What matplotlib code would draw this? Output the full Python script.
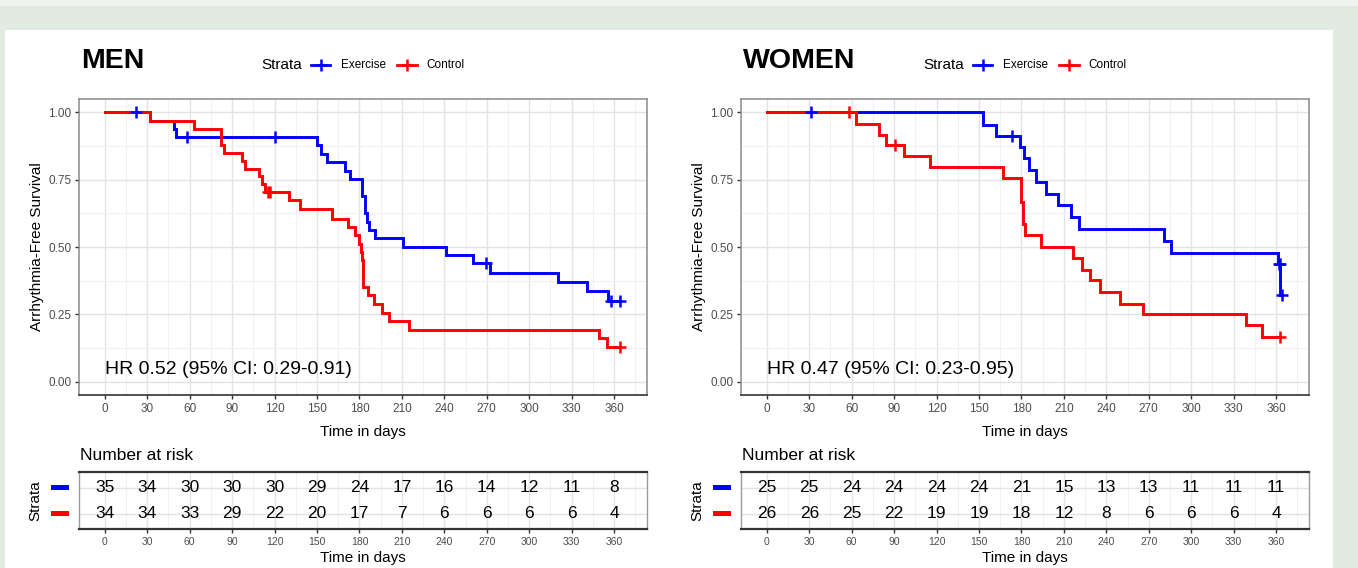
import numpy as np
import matplotlib.pyplot as plt
from matplotlib.lines import Line2D
from matplotlib.patches import Rectangle
import matplotlib.transforms as mtransforms

plt.rcParams['font.family'] = ['Liberation Sans', 'DejaVu Sans']

W, H = 1358, 568

# ---- data (days, survival) ----
men_ex_t = [0, 32, 49, 50.5, 150, 153, 157, 170, 173, 182, 184, 185.5, 187, 191, 210.7, 241, 260, 272.6, 320, 341, 356, 364]
men_ex_s = [1.0, 0.97, 0.94, 0.91, 0.88, 0.846, 0.815, 0.784, 0.753, 0.688, 0.625, 0.594, 0.565, 0.535, 0.50, 0.47, 0.44, 0.405, 0.37, 0.337, 0.30, 0.30]
men_ex_cens = [22, 58, 120, 269.5, 358, 364]

men_ct_t = [0, 32, 63, 82, 84, 97, 99, 109, 111, 113, 130, 138, 160.8, 171.6, 176.8, 179.6, 181, 182, 182.5, 185.7, 190.4, 195.6, 201, 215, 349, 355, 364]
men_ct_s = [1.0, 0.97, 0.94, 0.88, 0.85, 0.82, 0.79, 0.763, 0.733, 0.703, 0.675, 0.642, 0.605, 0.574, 0.543, 0.51, 0.48, 0.45, 0.352, 0.321, 0.287, 0.256, 0.225, 0.19, 0.16, 0.127, 0.127]
men_ct_cens = [115, 117, 364]

wom_ex_t = [0, 152.5, 162, 179, 182, 185.6, 190.5, 197.6, 206, 214.7, 220.8, 281, 285.4, 361, 363, 364]
wom_ex_s = [1.0, 0.955, 0.913, 0.871, 0.83, 0.785, 0.74, 0.696, 0.655, 0.611, 0.568, 0.522, 0.479, 0.435, 0.32, 0.32]
wom_ex_cens = [31, 173.5, 362, 362.5, 364]

wom_ct_t = [0, 62.7, 79, 84, 96.8, 115, 166.8, 180, 181, 182.3, 193.6, 216.5, 223, 228.7, 235.8, 249.5, 265.7, 338.7, 350, 362.5]
wom_ct_s = [1.0, 0.958, 0.915, 0.878, 0.838, 0.797, 0.755, 0.667, 0.587, 0.543, 0.5, 0.459, 0.416, 0.377, 0.333, 0.29, 0.25, 0.21, 0.165, 0.165]
wom_ct_cens = [58, 90.7, 362.5]

risk_times = [0, 30, 60, 90, 120, 150, 180, 210, 240, 270, 300, 330, 360]
men_risk_ex = [35, 34, 30, 30, 30, 29, 24, 17, 16, 14, 12, 11, 8]
men_risk_ct = [34, 34, 33, 29, 22, 20, 17, 7, 6, 6, 6, 6, 4]
wom_risk_ex = [25, 25, 24, 24, 24, 24, 21, 15, 13, 13, 11, 11, 11]
wom_risk_ct = [26, 26, 25, 22, 19, 19, 18, 12, 8, 6, 6, 6, 4]

panels = [
    dict(title="MEN", hr="HR 0.52 (95% CI: 0.29-0.91)", left=79,
         ex=(men_ex_t, men_ex_s, men_ex_cens), ct=(men_ct_t, men_ct_s, men_ct_cens),
         risk=(men_risk_ex, men_risk_ct)),
    dict(title="WOMEN", hr="HR 0.47 (95% CI: 0.23-0.95)", left=741,
         ex=(wom_ex_t, wom_ex_s, wom_ex_cens), ct=(wom_ct_t, wom_ct_s, wom_ct_cens),
         risk=(wom_risk_ex, wom_risk_ct)),
]

BLUE = '#0000ff'
RED = '#ff0000'
GRID = '#e3e3e3'
GRID_MIN = '#f1f1f1'
TICKC = '#4d4d4d'
XLIM = (-18.25, 383.25)


def fx(px):
    return px / W


def fy(py):
    return 1 - py / H


def surv_at(t, s, c):
    t = np.asarray(t)
    s = np.asarray(s)
    return s[np.searchsorted(t, c, side='right') - 1]


fig = plt.figure(figsize=(W / 100, H / 100), dpi=100)
fig.patch.set_facecolor('#e2ebe2')
fig.add_artist(Rectangle((0, fy(6)), 1, 6 / H, transform=fig.transFigure,
                         facecolor='#eef3ee', edgecolor='none', zorder=-2))
fig.add_artist(Rectangle((fx(5), 0), fx(1333 - 5), fy(30), transform=fig.transFigure,
                         facecolor='white', edgecolor='none', zorder=-1))

for p in panels:
    L = p['left']
    ax = fig.add_axes([fx(L), fy(395), 568 / W, 296 / H])
    ax.set_xlim(*XLIM)
    ax.set_ylim(-0.05, 1.05)
    ax.set_xticks(risk_times)
    ax.set_xticks(np.arange(15, 380, 30), minor=True)
    ax.set_yticks([0, 0.25, 0.5, 0.75, 1.0])
    ax.set_yticks([0.125, 0.375, 0.625, 0.875], minor=True)
    ax.set_yticklabels(['0.00', '0.25', '0.50', '0.75', '1.00'])
    ax.grid(which='major', color=GRID, lw=1.0)
    ax.grid(which='minor', color=GRID_MIN, lw=0.8)
    ax.set_axisbelow(True)
    ax.tick_params(which='minor', length=0)
    ax.tick_params(which='major', length=3, width=1, color='#333333', labelsize=8.5,
                   labelcolor=TICKC, pad=2.5)
    for side in ['top', 'right', 'left']:
        ax.spines[side].set_color('#8a8a8a')
        ax.spines[side].set_linewidth(1.1)
    ax.spines['bottom'].set_color('#333333')
    ax.spines['bottom'].set_linewidth(1.2)

    for (t, s, c), col in [(p['ex'], BLUE), (p['ct'], RED)]:
        ax.step(t, s, where='post', color=col, lw=2.1, solid_joinstyle='miter')
    for (t, s, c), col in [(p['ex'], BLUE), (p['ct'], RED)]:
        ax.plot(c, surv_at(t, s, c), ls='none', marker='+', color=col, ms=9, mew=1.8)

    ax.text(0, 0.045, p['hr'], fontsize=14, va='center', ha='left', color='black')
    ax.set_xlabel("Time in days", fontsize=11)
    ax.xaxis.set_label_coords(0.5, -0.101)
    ax.set_ylabel("Arrhythmia-Free Survival", fontsize=11)
    ax.yaxis.set_label_coords(-35 / 568, 0.5)

    # title and legend
    fig.text(fx(L + 2), fy(61), p['title'], fontsize=20.5, fontweight='bold', va='center')
    fig.text(fx(L + 182), fy(65), "Strata", fontsize=11, va='center')
    for x0, x1, col, lab, xt in [(232, 251, BLUE, "Exercise", 262),
                                 (318, 338, RED, "Control", 347)]:
        fig.add_artist(Line2D([fx(L + x0), fx(L + x1)], [fy(65), fy(65)], color=col, lw=2,
                              transform=fig.transFigure))
        fig.add_artist(Line2D([fx(L + (x0 + x1) / 2)], [fy(65)], color=col, marker='+',
                              ms=9, mew=1.8, transform=fig.transFigure))
        fig.text(fx(L + xt), fy(65), lab, fontsize=8.5, va='center')

    # risk table
    tax = fig.add_axes([fx(L), fy(529), 568 / W, 57 / H])
    tax.set_xlim(*XLIM)
    tax.set_ylim(0.42, 2.6)
    tax.set_xticks(risk_times)
    tax.set_xticks(np.arange(15, 380, 30), minor=True)
    tax.set_yticks([1, 2])
    tax.set_yticklabels([])
    tax.tick_params(axis='y', length=0)
    tax.tick_params(which='minor', length=0)
    tax.tick_params(axis='x', which='major', length=3, width=1, color='#333333',
                    labelsize=7.5, labelcolor=TICKC, pad=2.5)
    tax.grid(which='major', color=GRID, lw=1.0)
    tax.grid(which='minor', axis='x', color=GRID_MIN, lw=0.8)
    tax.set_axisbelow(True)
    for side in ['left', 'right']:
        tax.spines[side].set_color('#9a9a9a')
        tax.spines[side].set_linewidth(1.0)
    for side in ['top', 'bottom']:
        tax.spines[side].set_color('#333333')
        tax.spines[side].set_linewidth(1.6)
    ex_r, ct_r = p['risk']
    for xt, a, b in zip(risk_times, ex_r, ct_r):
        tax.text(xt, 2, str(a), ha='center', va='center', fontsize=12.5)
        tax.text(xt, 1, str(b), ha='center', va='center', fontsize=12.5)
    tax.set_xlabel("Time in days", fontsize=11)
    tax.xaxis.set_label_coords(0.5, -0.38)
    tax.set_ylabel("Strata", fontsize=11)
    tax.yaxis.set_label_coords(-37 / 568, 0.5)
    trans = mtransforms.blended_transform_factory(fig.transFigure, tax.transData)
    for yy, col in [(2, BLUE), (1, RED)]:
        tax.add_patch(Rectangle((fx(L - 28), yy - 0.1), fx(18), 0.2, transform=trans,
                                facecolor=col, edgecolor='none', clip_on=False))
    fig.text(fx(L + 1), fy(455), "Number at risk", fontsize=12.5, va='center')

fig.savefig("out.png", dpi=100, facecolor=fig.get_facecolor())
